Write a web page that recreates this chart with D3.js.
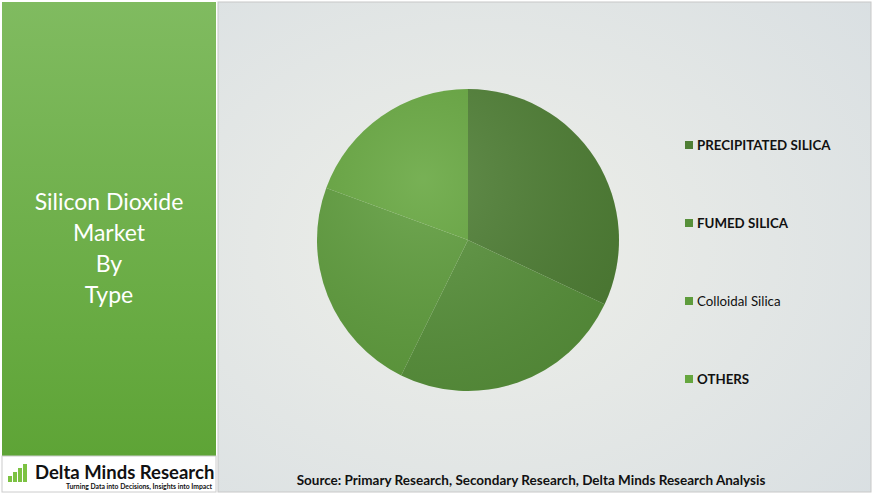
<!DOCTYPE html>
<html><head><meta charset="utf-8">
<script src="https://cdn.jsdelivr.net/npm/d3@7"></script>
<style>body{margin:0;background:#fff}svg{display:block}</style>
</head><body>
<script>
const categories = ["PRECIPITATED SILICA", "FUMED SILICA", "Colloidal Silica", "OTHERS"];
const shares = [32, 25.3, 23.3, 19.4];
const colors = ["#4e7e34", "#57903a", "#5e9c3c", "#65a63e"];
const titleLines = ["Silicon Dioxide", "Market", "By", "Type"];

const W = 874, H = 494;
const svg = d3.select("body").append("svg").attr("width", W).attr("height", H)
  .style("font-family", "Lato, sans-serif");
const defs = svg.append("defs");

const lg = defs.append("linearGradient").attr("id", "lg").attr("x1", 0).attr("y1", 0).attr("x2", 0).attr("y2", 1);
lg.append("stop").attr("offset", 0).attr("stop-color", "#80bb60");
lg.append("stop").attr("offset", 1).attr("stop-color", "#5ea436");
const bg = defs.append("radialGradient").attr("id", "bg").attr("cx", 0.4).attr("cy", 0.5).attr("r", 0.8);
bg.append("stop").attr("offset", 0).attr("stop-color", "#eeefe9");
bg.append("stop").attr("offset", 1).attr("stop-color", "#d9dfe2");

svg.append("rect").attr("width", W).attr("height", H).attr("fill", "#fff");
svg.append("rect").attr("x", 218).attr("y", 2).attr("width", 653).attr("height", 490).attr("fill", "url(#bg)").attr("stroke", "#c8c8c8");
svg.append("rect").attr("x", 2).attr("y", 2).attr("width", 214).attr("height", 454).attr("fill", "url(#lg)");
svg.append("rect").attr("x", 2).attr("y", 456).attr("width", 214).attr("height", 36).attr("fill", "#fff").attr("stroke", "#ccc");

svg.append("g").selectAll("text").data(titleLines).join("text")
  .attr("x", 109).attr("y", (d, i) => 210 + i * 31).attr("text-anchor", "middle")
  .attr("fill", "#fff").attr("font-size", 23).text(d => d);

// logo
const logo = svg.append("g");
logo.selectAll("rect").data([6, 10, 14, 18]).join("rect")
  .attr("x", (d, i) => 8 + i * 5).attr("y", d => 482 - d).attr("width", 4).attr("height", d => d).attr("fill", "#7cc242");
logo.append("text").attr("x", 35).attr("y", 479).attr("font-size", 18.5).attr("font-weight", "bold").attr("fill", "#111").text("Delta Minds Research");
logo.append("text").attr("x", 212).attr("y", 489).attr("text-anchor", "end").attr("font-size", 6.8).attr("font-weight", "bold").attr("fill", "#111").text("Turning Data into Decisions, Insights into Impact");

// pie
const cx = 468, cy = 240, r = 151;
const pie = d3.pie().sort(null).value(d => d)(shares);
const arc = d3.arc().innerRadius(0).outerRadius(r);
const pg = svg.append("g").attr("transform", `translate(${cx},${cy})`);
pg.selectAll("path").data(pie).join("path").attr("d", arc).attr("fill", (d, i) => colors[i]);
const shine = defs.append("radialGradient").attr("id", "sh").attr("cx", 0.35).attr("cy", 0.3).attr("r", 0.8);
shine.append("stop").attr("offset", 0).attr("stop-color", "#fff").attr("stop-opacity", 0.12);
shine.append("stop").attr("offset", 1).attr("stop-color", "#000").attr("stop-opacity", 0.08);
pg.append("circle").attr("r", r).attr("fill", "url(#sh)");

// legend
const y = d3.scalePoint().domain(categories).range([145, 379]);
const lgd = svg.append("g").selectAll("g").data(categories).join("g")
  .attr("transform", d => `translate(685,${y(d)})`);
lgd.append("rect").attr("x", 0).attr("y", -4).attr("width", 8).attr("height", 8).attr("fill", (d, i) => colors[i]);
lgd.append("text").attr("x", 12).attr("y", 5).attr("font-size", 13.3)
  .attr("font-weight", (d, i) => i === 2 ? "normal" : "bold").attr("fill", "#111").text(d => d);

svg.append("text").attr("x", 531).attr("y", 485).attr("text-anchor", "middle").attr("font-size", 13.5)
  .attr("font-weight", "bold").attr("fill", "#111")
  .text("Source: Primary Research, Secondary Research, Delta Minds Research Analysis");
</script>
</body></html>
